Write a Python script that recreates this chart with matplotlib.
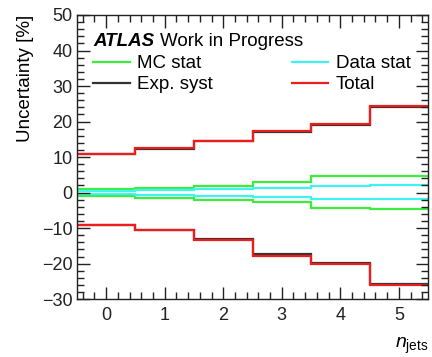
import numpy as np
import matplotlib
matplotlib.use("Agg")
import matplotlib.pyplot as plt
from matplotlib.ticker import MultipleLocator
from matplotlib.lines import Line2D

plt.rcParams['font.family'] = ['Liberation Sans', 'DejaVu Sans']
plt.rcParams['mathtext.fontset'] = 'custom'
plt.rcParams['mathtext.rm'] = 'Liberation Sans'
plt.rcParams['mathtext.it'] = 'Liberation Sans:italic'
plt.rcParams['axes.unicode_minus'] = True

# jet multiplicity bins
njets = [0, 1, 2, 3, 4, 5]

# relative uncertainties in percent (up / down variations)
mc_stat_up = [1.0, 1.4, 1.9, 2.9, 4.6, 4.7]
mc_stat_dn = [-0.95, -1.5, -2.0, -2.7, -4.3, -4.5]
data_stat_up = [0.5, 0.7, 1.0, 1.4, 1.9, 2.1]
data_stat_dn = [-0.45, -0.6, -0.9, -1.1, -1.8, -1.9]
exp_syst_up = [10.9, 12.4, 14.4, 17.0, 19.0, 24.2]
exp_syst_dn = [-9.1, -10.5, -13.1, -17.4, -19.9, -25.6]
total_up = [11.0, 12.5, 14.6, 17.3, 19.4, 24.5]
total_dn = [-9.2, -10.6, -13.3, -17.8, -20.2, -25.9]

edges = np.append(np.array(njets) - 0.5, njets[-1] + 0.5)

fig = plt.figure(figsize=(4.32, 3.57), dpi=100)
ax = fig.add_axes([0.178, 0.162, 0.813, 0.796])

c_mc = '#3ded3d'
c_data = '#40f2f2'
c_syst = '#333333'
c_tot = '#ee1c1c'
lw = 1.6

for up, dn, c in [(mc_stat_up, mc_stat_dn, c_mc),
                  (data_stat_up, data_stat_dn, c_data),
                  (exp_syst_up, exp_syst_dn, c_syst),
                  (total_up, total_dn, c_tot)]:
    ax.stairs(up, edges, baseline=None, color=c, lw=lw)
    ax.stairs(dn, edges, baseline=None, color=c, lw=lw)

ax.set_xlim(-0.5, 5.5)
ax.set_ylim(-30, 50)
ax.xaxis.set_major_locator(MultipleLocator(1))
ax.xaxis.set_minor_locator(MultipleLocator(0.2))
ax.yaxis.set_major_locator(MultipleLocator(10))
ax.yaxis.set_minor_locator(MultipleLocator(2))
ax.tick_params(which='both', direction='in', top=True, right=True,
               labelsize=13, colors='#222222', width=1.0)
ax.tick_params(which='major', length=9)
ax.tick_params(which='minor', length=5)
ax.tick_params(axis='x', pad=6)
ax.tick_params(axis='y', pad=3)
for s in ax.spines.values():
    s.set_linewidth(1.0)
    s.set_color('#222222')

ax.set_ylabel('Uncertainty [%]', fontsize=13.5, loc='top', labelpad=6)
ax.set_xlabel(r'$n_{\mathrm{jets}}$', fontsize=14, loc='right', labelpad=8)

atlas = ax.text(0.046, 0.908, 'ATLAS', transform=ax.transAxes, fontsize=13.5,
                fontweight='bold', fontstyle='italic', va='center', ha='left')
ax.annotate('Work in Progress', xy=(1, 0.5), xycoords=atlas,
            xytext=(4, 0), textcoords='offset points',
            fontsize=13.5, va='center', ha='left')

handles = [Line2D([], [], color=c_mc, lw=lw), Line2D([], [], color=c_syst, lw=lw),
           Line2D([], [], color=c_data, lw=lw), Line2D([], [], color=c_tot, lw=lw)]
labels = ['MC stat', 'Exp. syst', 'Data stat', 'Total']
ax.legend(handles, labels, ncol=2, frameon=False, fontsize=13.5,
          loc='upper left', bbox_to_anchor=(0.025, 0.885),
          handlelength=1.95, handletextpad=0.4, columnspacing=4.2,
          labelspacing=0.2, borderaxespad=0.0)

fig.savefig('out.png', dpi=100)
